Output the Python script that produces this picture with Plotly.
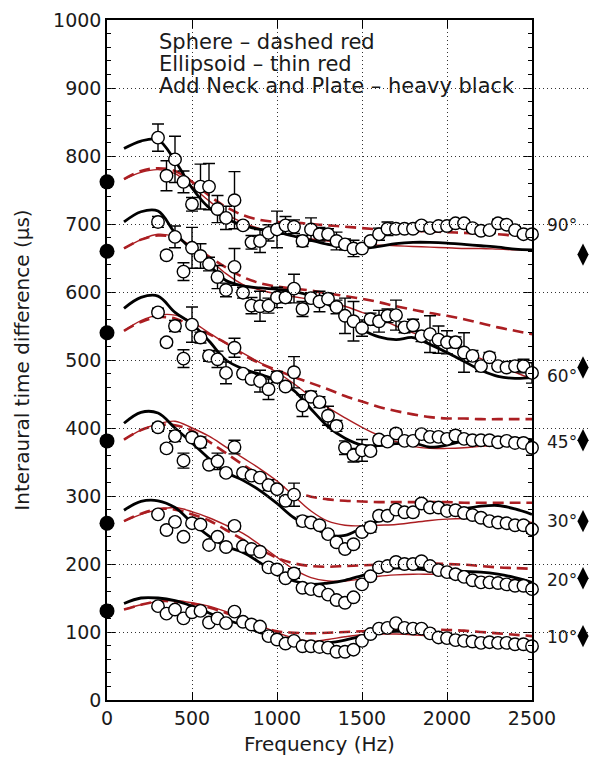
import plotly.graph_objects as go

# ---------------- data ----------------
FREQ_DATA = list(range(300, 2501, 50))          # measured points (Hz)
FREQ_MODEL = list(range(100, 2501, 100))        # model curves (Hz)

ITD_90 = [827, 771, 795, 762, 729, 755, 755, 722, 709, 735, 698, 673, 675, 687, 692, 698, 696, 675, 692, 685,
          685, 675, 670, 664, 664, 675, 685, 693, 693, 693, 693, 698, 694, 697, 697, 701, 701, 694, 690, 691,
          701, 699, 691, 685, 685]
ERR_90 = [20, 22, 34, 16, 10, 33, 34, 20, 17, 42, 5, 10, 17, 12, 27, 13, 10, 8, 17, 10,
          8, 13, 8, 12, 5, 5, 9, 10, 5, 5, 5, 5, 5, 5, 5, 5, 5, 5, 5, 5,
          6, 5, 5, 5, 5]

ITD_60 = [703, 654, 681, 630, 665, 653, 641, 622, 603, 637, 599, 580, 579, 580, 592, 592, 605, 575, 591, 586,
          590, 578, 565, 557, 547, 560, 557, 565, 566, 548, 551, 535, 538, 530, 526, 526, 511, 506, 491, 504,
          491, 489, 491, 491, 481]
ERR_60 = [8, 5, 16, 13, 30, 18, 10, 17, 10, 27, 8, 12, 22, 11, 15, 8, 21, 11, 8, 15,
          8, 10, 26, 29, 12, 9, 16, 10, 22, 8, 9, 8, 27, 20, 17, 8, 29, 8, 8, 7,
          5, 5, 8, 10, 15]

ITD_45 = [570, 526, 550, 502, 552, 533, 506, 501, 481, 518, 480, 472, 469, 457, 475, 461, 482, 433, 446, 438,
          418, 403, 371, 360, 367, 366, 383, 380, 392, 381, 381, 391, 387, 387, 384, 389, 384, 382, 382, 382,
          379, 381, 378, 378, 371]
ERR_45 = [6, 5, 8, 13, 26, 8, 8, 12, 16, 14, 5, 5, 16, 15, 8, 5, 23, 16, 8, 8,
          14, 8, 10, 10, 16, 5, 5, 5, 6, 5, 5, 5, 5, 5, 5, 7, 5, 5, 5, 5,
          5, 5, 5, 5, 11]

ITD_30 = [401, 370, 388, 352, 386, 379, 346, 351, 334, 372, 334, 330, 327, 316, 310, 293, 302, 263, 261, 257,
          244, 232, 222, 229, 247, 254, 271, 271, 280, 276, 276, 289, 283, 283, 278, 279, 275, 272, 268, 263,
          261, 260, 257, 257, 251]
ERR_30 = [6, 5, 8, 11, 5, 8, 5, 12, 5, 10, 5, 5, 5, 8, 5, 5, 17, 7, 5, 5,
          5, 5, 5, 5, 5, 7, 5, 5, 5, 5, 5, 5, 5, 5, 5, 5, 5, 5, 5, 5,
          5, 5, 5, 5, 6]

ITD_20 = [273, 250, 262, 240, 260, 258, 228, 240, 225, 256, 226, 222, 218, 195, 192, 179, 186, 165, 163, 161,
          155, 147, 143, 151, 170, 182, 195, 197, 203, 200, 200, 204, 197, 191, 188, 185, 181, 176, 173, 173,
          172, 170, 168, 168, 163]
ERR_20 = [4, 4, 5, 5, 4, 4, 4, 4, 4, 5, 4, 4, 4, 4, 4, 4, 7, 4, 4, 4,
          4, 4, 4, 4, 4, 4, 4, 4, 4, 4, 4, 4, 4, 4, 4, 6, 4, 4, 4, 4,
          4, 4, 4, 4, 4]

ITD_10 = [138, 127, 133, 120, 129, 131, 114, 120, 113, 130, 115, 111, 108, 94, 89, 83, 87, 79, 79, 78,
          77, 71, 71, 74, 87, 97, 105, 106, 113, 106, 105, 105, 98, 92, 91, 88, 87, 86, 84, 85,
          84, 84, 82, 82, 79]
ERR_10 = [3] * 45

BLACK_90 = [811, 822, 824, 793, 753, 724, 708, 698, 692, 688, 682, 676, 670, 666, 664, 667, 671, 673, 673, 672, 670, 668, 666, 663, 662]
THIN_90 = [766, 776, 780, 774, 755, 734, 715, 702, 693, 687, 682, 678, 675, 672, 670, 669, 668, 667, 666, 665, 664, 664, 663, 662, 662]
DASH_90 = [766, 778, 782, 778, 762, 742, 725, 713, 706, 703, 702, 700, 698, 696, 694, 692, 691, 690, 689, 688, 687, 686, 685, 683, 682]

BLACK_60 = [703, 718, 719, 687, 662, 640, 617, 609, 606, 604, 601, 594, 582, 562, 545, 534, 530, 533, 523, 511, 498, 485, 476, 473, 474]
THIN_60 = [664, 677, 685, 681, 667, 648, 627, 611, 603, 597, 593, 589, 585, 579, 570, 561, 550, 540, 533, 526, 514, 502, 492, 482, 472]
DASH_60 = [664, 677, 683, 680, 668, 652, 636, 622, 613, 608, 605, 602, 598, 594, 590, 585, 579, 574, 569, 565, 560, 554, 548, 543, 538]

BLACK_45 = [576, 592, 594, 570, 553, 528, 500, 487, 479, 470, 455, 428, 402, 385, 375, 374, 377, 378, 372, 375, 381, 384, 386, 385, 383]
THIN_45 = [543, 558, 566, 566, 556, 540, 524, 510, 496, 482, 465, 446, 430, 415, 401, 389, 380, 373, 370, 370, 371, 373, 374, 375, 376]
DASH_45 = [543, 556, 563, 561, 550, 538, 525, 508, 495, 485, 475, 466, 457, 447, 439, 431, 425, 420, 416, 414, 414, 413, 413, 413, 413]

BLACK_30 = [407, 423, 422, 400, 378, 355, 335, 323, 308, 289, 268, 256, 243, 242, 253, 264, 275, 282, 280, 277, 281, 285, 286, 281, 273]
THIN_30 = [383, 397, 406, 410, 400, 388, 372, 356, 340, 322, 300, 278, 263, 257, 256, 257, 258, 261, 264, 266, 267, 267, 266, 264, 261]
DASH_30 = [383, 397, 404, 404, 396, 380, 363, 346, 331, 317, 306, 299, 295, 293, 292, 291, 291, 291, 291, 291, 290, 290, 290, 290, 290]

BLACK_20 = [279, 292, 293, 283, 261, 241, 226, 217, 202, 185, 175, 170, 172, 176, 183, 190, 194, 193, 191, 190, 189, 188, 185, 180, 173]
THIN_20 = [263, 273, 280, 283, 277, 268, 257, 245, 228, 210, 192, 180, 175, 175, 178, 182, 184, 185, 185, 185, 184, 181, 178, 176, 173]
DASH_20 = [263, 274, 281, 280, 273, 264, 250, 236, 222, 209, 201, 197, 196, 197, 198, 199, 200, 201, 201, 200, 199, 197, 195, 194, 193]

BLACK_10 = [142, 150, 150, 146, 138, 128, 118, 110, 99, 92, 86, 83, 84, 88, 94, 99, 101, 100, 99, 96, 93, 90, 87, 85, 82]
THIN_10 = [133, 140, 145, 146, 143, 138, 130, 121, 110, 99, 91, 86, 89, 93, 96, 97, 97, 96, 94, 92, 90, 88, 86, 84, 82]
DASH_10 = [133, 140, 145, 145, 142, 136, 128, 118, 109, 101, 99, 98, 99, 100, 101, 102, 103, 104, 104, 103, 102, 100, 98, 96, 94]

LEFT_MARKER_ITD = [762, 660, 540, 381, 260, 131]     # filled circles at 0 Hz
RIGHT_MARKER_ITD = [655, 489, 382, 263, 179, 94]     # diamonds right of the axis
RIGHT_MARKER_FREQ = 2800
ANGLE_LABELS = ["90°", "60°", "45°", "30°", "20°", "10°"]
ANGLE_LABEL_ITD = [698, 477, 379, 263, 177, 92]
ANGLE_LABEL_FREQ = 2575

LEGEND_LINES = ["Sphere \u2013 dashed red", "Ellipsoid \u2013 thin red", "Add Neck and Plate \u2013 heavy black"]
LEGEND_ITD = [967, 936, 903]
LEGEND_FREQ = 294

SERIES = [
    (ITD_90, ERR_90, BLACK_90, THIN_90, DASH_90),
    (ITD_60, ERR_60, BLACK_60, THIN_60, DASH_60),
    (ITD_45, ERR_45, BLACK_45, THIN_45, DASH_45),
    (ITD_30, ERR_30, BLACK_30, THIN_30, DASH_30),
    (ITD_20, ERR_20, BLACK_20, THIN_20, DASH_20),
    (ITD_10, ERR_10, BLACK_10, THIN_10, DASH_10),
]

RED = "#ab1e22"
FONT = "DejaVu Sans"
TXT = "#1a1a1a"

# main plot occupies the left part of the paper; an invisible wider x-axis carries the right-hand markers
W, H = 590, 757
ML, MR, MT, MB = 107, 0, 20, 57
PLOT_W = 425
DOMAIN_END = PLOT_W / (W - ML - MR)
X2_MAX = 2500 / DOMAIN_END

fig = go.Figure()

for itd, err, black, thin, dash in SERIES:
    fig.add_trace(go.Scatter(x=FREQ_MODEL, y=dash, mode="lines", line=dict(color=RED, width=2.6, dash="11px,6px", shape="spline"), hoverinfo="skip"))
    fig.add_trace(go.Scatter(x=FREQ_MODEL, y=thin, mode="lines", line=dict(color=RED, width=1.4, shape="spline"), hoverinfo="skip"))
    fig.add_trace(go.Scatter(x=FREQ_MODEL, y=black, mode="lines", line=dict(color="black", width=2.8, shape="spline"), hoverinfo="skip"))

for itd, err, black, thin, dash in SERIES:
    fig.add_trace(go.Scatter(
        x=FREQ_DATA, y=itd, mode="markers",
        marker=dict(symbol="circle", size=12.5, color="white", line=dict(color="black", width=1.4)),
        error_y=dict(type="data", array=err, color="black", thickness=1.4, width=6),
        cliponaxis=False,
    ))

fig.add_trace(go.Scatter(x=[0] * len(LEFT_MARKER_ITD), y=LEFT_MARKER_ITD, mode="markers",
                         marker=dict(symbol="circle", size=15, color="black"), cliponaxis=False))
fig.add_trace(go.Scatter(x=[RIGHT_MARKER_FREQ] * len(RIGHT_MARKER_ITD), y=RIGHT_MARKER_ITD, mode="markers",
                         xaxis="x2", yaxis="y",
                         marker=dict(symbol="diamond-tall", size=16, color="black"), cliponaxis=False))

annotations = []
for lab, yv in zip(ANGLE_LABELS, ANGLE_LABEL_ITD):
    annotations.append(dict(x=ANGLE_LABEL_FREQ, xref="x2", y=yv, yref="y", text=lab,
                            showarrow=False, xanchor="left", yanchor="middle",
                            font=dict(family=FONT, size=17, color=TXT)))
for txt, yv in zip(LEGEND_LINES, LEGEND_ITD):
    annotations.append(dict(x=LEGEND_FREQ, xref="x", y=yv, yref="y", text=txt, showarrow=False,
                            xanchor="left", yanchor="middle",
                            font=dict(family=FONT, size=21, color=TXT)))

axis_common = dict(showline=True, linecolor="black", linewidth=1.5, mirror="ticks",
                   ticks="inside", tickcolor="black", tickwidth=1.2, ticklen=8,
                   showgrid=True, gridcolor="#333", gridwidth=1, griddash="1px,3px",
                   zeroline=False, tickfont=dict(family=FONT, size=19, color=TXT))

fig.update_layout(
    width=W, height=H,
    margin=dict(l=ML, r=MR, t=MT, b=MB, autoexpand=False),
    paper_bgcolor="white", plot_bgcolor="rgba(0,0,0,0)",
    showlegend=False,
    annotations=annotations,
    xaxis=dict(domain=[0, DOMAIN_END], range=[0, 2500], tickvals=[0, 500, 1000, 1500, 2000, 2500],
               automargin=False,
               title=dict(text="Frequency (Hz)", font=dict(family=FONT, size=20, color=TXT), standoff=9),
               **axis_common),
    xaxis2=dict(domain=[0, 1], range=[0, X2_MAX], anchor="y", visible=False, showgrid=False, zeroline=False,
                automargin=False),
    yaxis=dict(range=[0, 1000], tickvals=list(range(0, 1001, 100)), automargin=False,
               minor=dict(dtick=20, ticks="inside", ticklen=4, tickcolor="black", tickwidth=1, showgrid=False),
               title=dict(text="Interaural time difference (\u03bcs)", font=dict(family=FONT, size=20, color=TXT), standoff=18),
               **axis_common),
)

fig.write_html("out.html", config={"displayModeBar": False}, post_script="document.body.style.margin='0';")
